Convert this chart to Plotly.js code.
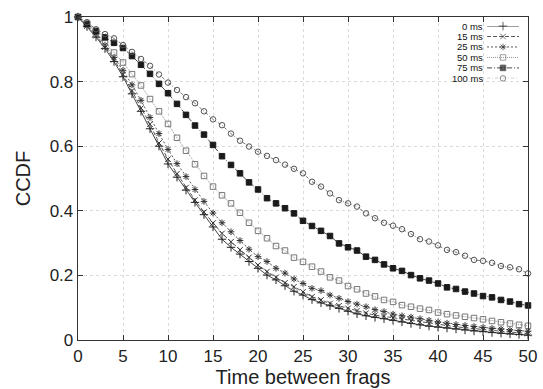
<!DOCTYPE html>
<html>
<head>
<meta charset="utf-8">
<script src="https://cdn.plot.ly/plotly-3.0.1.min.js"></script>
<style>html,body{margin:0;padding:0;background:#fff;}#chart{width:543px;height:389px;}</style>
</head>
<body>
<div id="chart"></div>
<script>
var timeX = [0,1,2,3,4,5,6,7,8,9,10,11,12,13,14,15,16,17,18,19,20,21,22,23,24,25,26,27,28,29,30,31,32,33,34,35,36,37,38,39,40,41,42,43,44,45,46,47,48,49,50];

var ms0 = [1.000,0.970,0.938,0.902,0.862,0.815,0.762,0.708,0.654,0.600,0.545,0.504,0.464,0.426,0.388,0.350,0.312,0.287,0.266,0.243,0.222,0.201,0.186,0.168,0.151,0.139,0.125,0.115,0.106,0.098,0.089,0.081,0.075,0.070,0.066,0.061,0.056,0.051,0.047,0.043,0.040,0.037,0.034,0.031,0.028,0.026,0.023,0.021,0.019,0.017,0.015];
var ms15 = [1.000,0.972,0.942,0.907,0.868,0.822,0.772,0.718,0.668,0.610,0.560,0.515,0.472,0.433,0.396,0.362,0.330,0.304,0.279,0.256,0.232,0.212,0.194,0.177,0.165,0.149,0.134,0.124,0.113,0.106,0.098,0.091,0.083,0.077,0.073,0.068,0.063,0.059,0.055,0.051,0.047,0.044,0.041,0.038,0.035,0.032,0.030,0.027,0.025,0.022,0.020];
var ms25 = [1.000,0.975,0.947,0.913,0.875,0.835,0.790,0.742,0.689,0.639,0.590,0.546,0.506,0.466,0.429,0.393,0.363,0.335,0.308,0.281,0.258,0.243,0.222,0.207,0.189,0.175,0.160,0.153,0.139,0.129,0.119,0.111,0.103,0.094,0.088,0.080,0.075,0.071,0.066,0.061,0.056,0.052,0.048,0.045,0.042,0.039,0.036,0.034,0.031,0.029,0.027];
var ms50 = [1.000,0.977,0.951,0.921,0.890,0.859,0.823,0.788,0.746,0.708,0.669,0.626,0.586,0.544,0.508,0.475,0.448,0.423,0.394,0.363,0.338,0.315,0.291,0.277,0.255,0.242,0.227,0.212,0.194,0.184,0.167,0.157,0.144,0.135,0.124,0.118,0.108,0.103,0.097,0.093,0.085,0.080,0.076,0.072,0.068,0.064,0.059,0.055,0.051,0.047,0.044];
var ms75 = [1.000,0.979,0.957,0.937,0.920,0.904,0.879,0.852,0.824,0.793,0.764,0.731,0.697,0.664,0.636,0.604,0.569,0.542,0.516,0.488,0.466,0.439,0.423,0.408,0.392,0.369,0.353,0.338,0.322,0.299,0.287,0.277,0.258,0.248,0.234,0.222,0.214,0.201,0.191,0.184,0.175,0.163,0.158,0.150,0.144,0.136,0.132,0.124,0.119,0.111,0.107];
var ms100 = [1.000,0.984,0.962,0.947,0.934,0.913,0.892,0.870,0.849,0.822,0.797,0.774,0.752,0.733,0.708,0.683,0.665,0.639,0.617,0.599,0.583,0.570,0.557,0.543,0.530,0.516,0.490,0.475,0.454,0.433,0.423,0.413,0.392,0.377,0.363,0.354,0.343,0.328,0.312,0.305,0.293,0.279,0.272,0.261,0.248,0.245,0.239,0.229,0.225,0.219,0.206];

var seriesNames = ['0 ms','15 ms','25 ms','50 ms','75 ms','100 ms'];
var seriesValues = [ms0, ms15, ms25, ms50, ms75, ms100];

var styles = [
  {symbol:'cross-thin-open', size:6, mcolor:'#222', lcolor:'#333', dash:'solid'},
  {symbol:'x-thin-open', size:5.5, mcolor:'#333', lcolor:'#444', dash:'4px,2px'},
  {symbol:'asterisk-open', size:5.5, mcolor:'#333', lcolor:'#444', dash:'2px,2px'},
  {symbol:'square-open', size:5.5, mcolor:'#777', lcolor:'#888', dash:'1px,1px'},
  {symbol:'square', size:5.5, mcolor:'#1a1a1a', lcolor:'#333', dash:'5px,2px,1px,2px'},
  {symbol:'circle-open', size:5.5, mcolor:'#555', lcolor:'#666', dash:'3px,2px,1px,2px'}
];

var font = 'Liberation Sans, Arial, Helvetica, sans-serif';
var traces = [];
var annotations = [];
for (var i = 0; i < seriesNames.length; i++) {
  var st = styles[i];
  traces.push({
    type:'scatter', mode:'lines+markers', x: timeX, y: seriesValues[i], name: seriesNames[i],
    line:{color: st.lcolor, width: 0.9, dash: st.dash},
    marker:{symbol: st.symbol, size: st.size, color: st.mcolor, line:{color: st.mcolor, width: 1}},
    cliponaxis:false, showlegend:false, xaxis:'x', yaxis:'y'
  });
  // legend sample on auxiliary axes
  traces.push({
    type:'scatter', mode:'lines+markers', x:[0,1,2], y:[i,i,i], hoverinfo:'skip',
    line:{color: st.lcolor, width: 0.9, dash: st.dash},
    marker:{symbol: st.symbol, size:[0, st.size, 0], color: st.mcolor, line:{color: st.mcolor, width: 1}},
    cliponaxis:false, showlegend:false, xaxis:'x2', yaxis:'y2'
  });
  annotations.push({
    xref:'x2', yref:'y2', x:0, y:i, text: seriesNames[i], showarrow:false,
    xanchor:'right', yanchor:'middle', xshift:-3, borderpad:0,
    font:{family: font, size:9.5, color:'#111'}
  });
}

var axisCommon = {
  showline:true, linecolor:'#333', linewidth:1.3, mirror:'ticks',
  ticks:'inside', ticklen:5, tickwidth:1, tickcolor:'#333',
  showgrid:true, gridcolor:'#d2d2d2', gridwidth:0.8, griddash:'dot',
  zeroline:false, tickfont:{family: font, size:17, color:'#222'}
};

var layout = {
  width:543, height:389,
  margin:{l:78, r:15, t:17, b:49},
  paper_bgcolor:'#fff', plot_bgcolor:'#fff',
  showlegend:false,
  xaxis: Object.assign({}, axisCommon, {
    range:[0,50], dtick:5, tick0:0,
    title:{text:'Time between frags', font:{family: font, size:20, color:'#222'}, standoff:5}
  }),
  yaxis: Object.assign({}, axisCommon, {
    range:[0,1], dtick:0.2, tick0:0,
    title:{text:'CCDF', font:{family: font, size:20, color:'#222'}, standoff:13}
  }),
  xaxis2:{domain:[0.909,0.98], range:[0,2], visible:false, anchor:'y2', fixedrange:true},
  yaxis2:{domain:[0.81,0.972], range:[5,0], visible:false, anchor:'x2', fixedrange:true},
  annotations: annotations,
  font:{family: font}
};

Plotly.newPlot('chart', traces, layout, {displayModeBar:false, staticPlot:true});
</script>
</body>
</html>
